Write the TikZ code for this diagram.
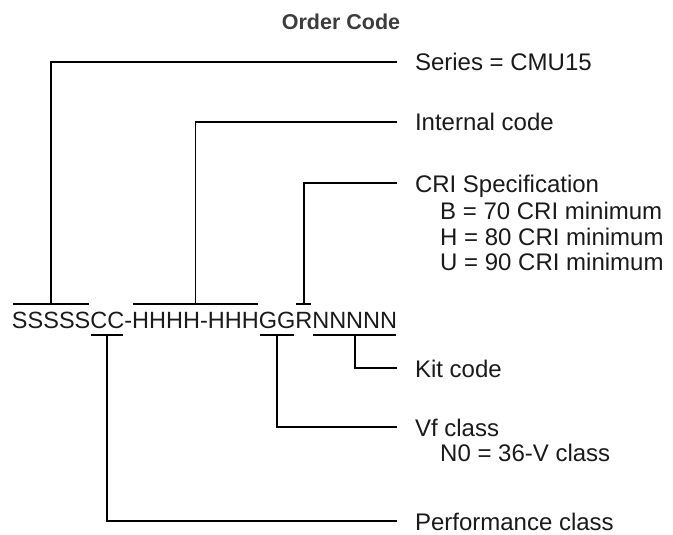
\documentclass[tikz,border=0pt]{standalone}
\usepackage{fontspec}
\setmainfont{Liberation Sans}
\usetikzlibrary{calc}
\definecolor{ink}{HTML}{1A1A1A}
\tikzset{
  wire/.style={line width=1.7pt, black},
  seg/.style={anchor=base west, inner sep=0pt, outer sep=0pt, text=ink,
              font=\fontsize{23.5}{28}\selectfont},
  lbl/.style={anchor=west, inner xsep=18pt, inner ysep=0pt, outer sep=0pt,
              text height=18pt, text depth=0pt, text=ink,
              font=\fontsize{24}{29}\selectfont},
  sub/.style={anchor=base west, inner sep=0pt, text=ink,
              font=\fontsize{24}{29}\selectfont},
  heading/.style={inner sep=0pt, text=ink!85, font=\fontsize{21.5}{26}\selectfont\bfseries}
}
\begin{document}
\begin{tikzpicture}[x=1pt, y=-1pt]
  \useasboundingbox (0,0) rectangle (673,535);

  % heading
  \node[heading] (title) at (341,22) {Order Code};

  % the order code, split into the groups that are annotated
  \node[seg] (gS) at (12,328) {SSSSS};
  \node[seg] (gC) at (gS.base east) {CC};
  \node[seg] (gD) at (gC.base east) {-};
  \node[seg] (gH) at (gD.base east) {HHHH-HHH};
  \node[seg] (gG) at (gH.base east) {GG};
  \node[seg] (gR) at (gG.base east) {R};
  \node[seg] (gN) at (gR.base east) {NNNNN};

  % levels of the bars above and below the code
  \coordinate (tb) at (0,304);
  \coordinate (bb) at (0,335);

  % labels on the right
  \node[lbl] (series) at (397,62)  {Series = CMU15};
  \node[lbl] (intern) at (397,122) {Internal code};
  \node[lbl] (cri)    at (397,183) {CRI Specification};
  \node[sub] (criB)   at (440,219.5) {B = 70 CRI minimum};
  \node[sub] (criH)   at (440,245) {H = 80 CRI minimum};
  \node[sub] (criU)   at (440,270.5) {U = 90 CRI minimum};
  \node[lbl] (kit)    at (397,368) {Kit code};
  \node[lbl] (vf)     at (397,427) {Vf class};
  \node[sub] (vfN)    at (440,461.5) {N0 = 36-V class};
  \node[lbl] (perf)   at (397,521) {Performance class};

  % bars over the groups
  \foreach \g in {gS,gH,gR}{
    \draw[wire] ([xshift=1pt]\g.west |- tb) -- ([xshift=-1pt]\g.east |- tb);
  }
  % bars under the groups
  \foreach \g in {gC,gG,gN}{
    \draw[wire] ([xshift=1pt]\g.west |- bb) -- ([xshift=-1pt]\g.east |- bb);
  }

  % leaders from the bars to the labels
  \draw[wire] (gS.center |- tb) |- (series.west);
  \draw[wire] (gH.center |- tb) |- (intern.west);
  \draw[wire] (gR.center |- tb) |- (cri.west);
  \draw[wire] (gN.center |- bb) |- (kit.west);
  \draw[wire] (gG.center |- bb) |- (vf.west);
  \draw[wire] (gC.center |- bb) |- (perf.west);
\end{tikzpicture}
\end{document}
